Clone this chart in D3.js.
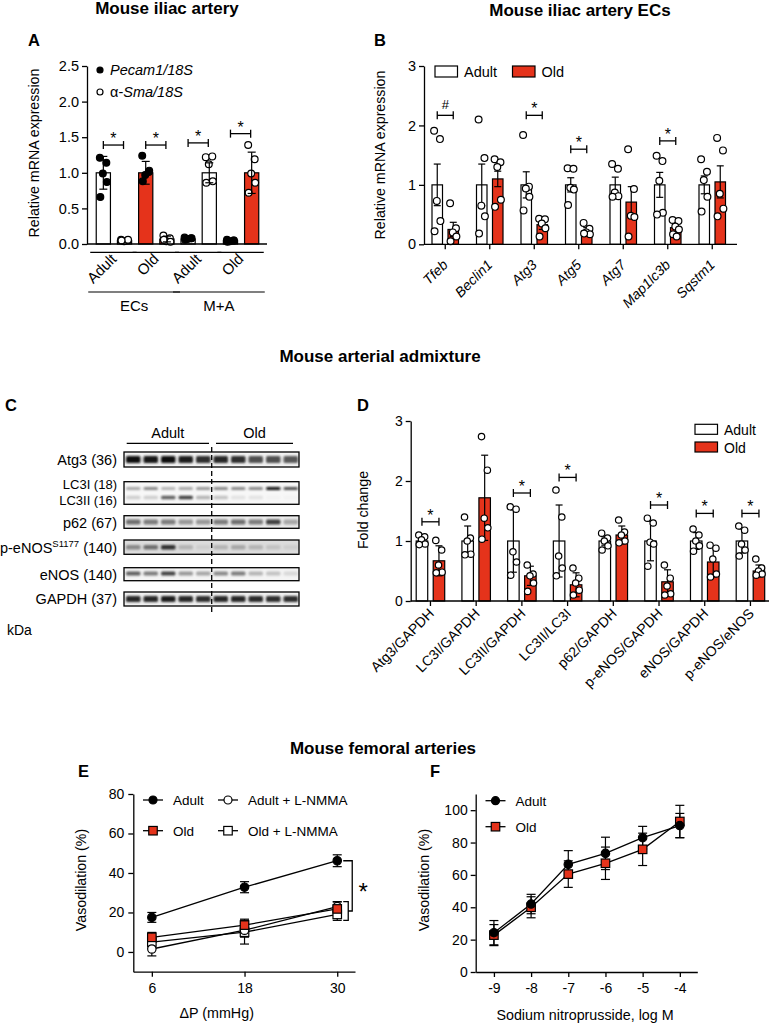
<!DOCTYPE html>
<html>
<head>
<meta charset="utf-8">
<script src="https://cdn.jsdelivr.net/npm/d3@7"></script>
<style>
body { margin: 0; background: #fff; }
text { fill: #000; }
</style>
</head>
<body>
<script>
// ---------- data ----------
// A: iliac artery, Pecam1 / a-Sma per group
var aAges = ["Adult", "Adult", "Old", "Old", "Adult", "Adult", "Old", "Old"];
var aGenes = ["Pecam1", "Sma", "Pecam1", "Sma", "Pecam1", "Sma", "Pecam1", "Sma"];
var aMeans = [1.00, 0.05, 1.00, 0.07, 0.07, 1.00, 0.05, 1.00];
var aSD = [0.23, 0.01, 0.16, 0.04, 0.01, 0.14, 0.01, 0.29];
var aPoints = [
  [1.21, 1.14, 0.99, 0.87, 0.66],
  [0.06, 0.05, 0.04, 0.06, 0.05],
  [1.24, 1.01, 0.97, 1.03, 0.88],
  [0.12, 0.08, 0.04, 0.03, 0.06],
  [0.09, 0.08, 0.07, 0.08, 0.06],
  [1.22, 1.23, 1.12, 0.88, 0.86],
  [0.06, 0.05, 0.04, 0.05, 0.03],
  [1.39, 1.19, 0.99, 0.86, 0.72]
];
var aGroupLabels = ["Adult", "Old", "Adult", "Old"];
var aTissues = ["ECs", "M+A"];
var aSig = [[0, 1, 1.39], [2, 3, 1.39], [4, 5, 1.42], [6, 7, 1.55]];

// B: iliac artery ECs
var bGenes = ["Tfeb", "Beclin1", "Atg3", "Atg5", "Atg7", "Map1lc3b", "Sqstm1"];
var bAdultMean = [1, 1, 1, 1, 1, 1, 1];
var bOldMean = [0.25, 1.10, 0.33, 0.22, 0.71, 0.28, 1.05];
var bAdultErr = [0.35, 0.35, 0.22, 0.12, 0.13, 0.21, 0.15];
var bOldErr = [0.12, 0.13, 0.08, 0.06, 0.26, 0.07, 0.27];
var bAdultPts = [
  [1.91, 1.77, 0.73, 0.39, 0.22],
  [2.10, 1.45, 0.65, 0.47, 0.18],
  [1.84, 0.97, 0.94, 0.80, 0.57],
  [1.28, 1.27, 0.95, 0.92, 0.66],
  [1.35, 1.27, 0.87, 0.81, 0.80],
  [1.49, 1.40, 1.07, 0.53, 0.50],
  [1.43, 1.22, 1.08, 0.80, 0.55]
];
var bOldPts = [
  [0.69, 0.27, 0.20, 0.13, 0.05],
  [1.43, 1.38, 1.30, 0.75, 0.63],
  [0.43, 0.42, 0.35, 0.27, 0.13],
  [0.36, 0.26, 0.20, 0.17, 0.18],
  [1.60, 0.93, 0.48, 0.46, 0.13],
  [0.41, 0.39, 0.30, 0.25, 0.17, 0.13],
  [1.79, 1.58, 0.85, 0.60, 0.47]
];
var bSig = [["Tfeb", "#", 2.17], ["Atg3", "*", 2.17], ["Atg5", "*", 1.60], ["Map1lc3b", "*", 1.74]];

// C: western blot, relative band darkness per lane (5 adult, 5 old)
var blotLabels = ["Atg3 (36)", "LC3", "p62 (67)", "p-eNOS", "eNOS (140)", "GAPDH (37)"];
var atg3Bands = [0.95, 0.92, 0.95, 0.9, 0.85, 0.88, 0.85, 0.75, 0.75, 0.72];
var lc3iBands = [0.45, 0.55, 0.4, 0.45, 0.5, 0.55, 0.55, 0.55, 0.95, 0.75];
var lc3iiBands = [0.3, 0.3, 0.7, 0.8, 0.4, 0.35, 0.2, 0.2, 0.1, 0.1];
var p62Bands = [0.65, 0.6, 0.6, 0.5, 0.5, 0.6, 0.65, 0.6, 0.8, 0.45];
var peNOSBands = [0.55, 0.65, 0.85, 0.4, 0.3, 0.4, 0.45, 0.4, 0.35, 0.3];
var eNOSBands = [0.7, 0.6, 0.8, 0.5, 0.45, 0.55, 0.6, 0.4, 0.35, 0.25];
var gapdhBands = [0.88, 0.88, 0.9, 0.88, 0.85, 0.88, 0.88, 0.86, 0.85, 0.85];

// D: arterial admixture densitometry
var dRatios = ["Atg3/GAPDH", "LC3I/GAPDH", "LC3II/GAPDH", "LC3II/LC3I", "p62/GAPDH", "p-eNOS/GAPDH", "eNOS/GAPDH", "p-eNOS/eNOS"];
var dAdultMean = [1, 1, 1, 1, 1, 1, 1, 1];
var dOldMean = [0.67, 1.72, 0.42, 0.27, 1.10, 0.32, 0.65, 0.50];
var dAdultErr = [0.05, 0.25, 0.52, 0.60, 0.07, 0.33, 0.14, 0.20];
var dOldErr = [0.25, 0.71, 0.16, 0.20, 0.15, 0.20, 0.25, 0.10];
var dAdultPts = [
  [1.10, 1.07, 1.02, 0.95, 0.94],
  [1.40, 1.05, 1.00, 0.78, 0.77],
  [1.57, 1.53, 0.82, 0.65, 0.43],
  [1.85, 1.40, 0.75, 0.55, 0.42],
  [1.13, 1.05, 1.00, 0.92, 0.85],
  [1.38, 1.30, 0.98, 0.95, 0.58],
  [1.20, 1.10, 1.00, 0.92, 0.83],
  [1.25, 1.18, 0.95, 0.85, 0.75]
];
var dOldPts = [
  [1.01, 0.85, 0.60, 0.48, 0.47],
  [2.74, 2.18, 1.38, 1.22, 1.03],
  [0.60, 0.45, 0.42, 0.30, 0.16],
  [0.55, 0.38, 0.30, 0.18, 0.10],
  [1.35, 1.15, 1.10, 1.00, 0.97],
  [0.60, 0.38, 0.25, 0.12, 0.10],
  [0.93, 0.88, 0.70, 0.45, 0.40],
  [0.70, 0.55, 0.50, 0.45, 0.43]
];
var dSig = [["Atg3/GAPDH", 1.32], ["LC3II/GAPDH", 1.80], ["LC3II/LC3I", 2.06], ["p-eNOS/GAPDH", 1.60], ["eNOS/GAPDH", 1.46], ["p-eNOS/eNOS", 1.46]];

// E: flow-induced dilation
var eDP = [6, 18, 30];
var eAdult = [17.5, 32.8, 46.2], eAdultErr = [2.5, 2.8, 3.0];
var eOld = [7.4, 13.6, 21.8], eOldErr = [2.5, 3.0, 3.5];
var eAdultL = [1.5, 11.0, 23.0], eAdultLErr = [3.5, 3.5, 2.5];
var eOldL = [5.0, 10.0, 19.0], eOldLErr = [3.0, 6.0, 3.0];

// F: sodium nitroprusside
var fLogM = [-9, -8, -7, -6, -5, -4];
var fAdult = [24.3, 42.0, 66.5, 73.3, 83.0, 90.5], fAdultErr = [7.5, 6.0, 8.5, 10.0, 7.0, 7.5];
var fOld = [22.8, 40.0, 60.5, 67.2, 75.8, 93.0], fOldErr = [6.5, 6.5, 8.2, 10.0, 10.0, 10.0];

// ---------- drawing ----------
var red = "#e5331b";
var font = "'Liberation Sans', Arial, Helvetica, sans-serif";
var jit = [-3.5, 3, -0.5, 3.5, -3, 1];

var svg = d3.select("body").append("svg")
  .attr("width", 770).attr("height", 1023)
  .style("font-family", font);

var defs = svg.append("defs");
defs.append("filter").attr("id", "blur").attr("x", "-20%").attr("y", "-50%").attr("width", "140%").attr("height", "200%")
  .append("feGaussianBlur").attr("stdDeviation", 0.9);

function label(x, y, s, size, opts) {
  opts = opts || {};
  return svg.append("text").attr("x", x).attr("y", y).text(s)
    .attr("font-size", size)
    .attr("font-weight", opts.bold ? "bold" : null)
    .attr("font-style", opts.italic ? "italic" : null)
    .attr("text-anchor", opts.anchor || "start");
}

function dot(g, x, y, r, filled) {
  g.append("circle").attr("cx", x).attr("cy", y).attr("r", r)
    .attr("fill", filled ? "#000" : "#fff").attr("stroke", "#000").attr("stroke-width", 1.2);
}

function square(g, x, y, s, fill) {
  g.append("rect").attr("x", x - s / 2).attr("y", y - s / 2).attr("width", s).attr("height", s)
    .attr("fill", fill).attr("stroke", "#000").attr("stroke-width", 1.2);
}

function errBar(g, x, y1, y2, hw) {
  g.append("line").attr("x1", x).attr("x2", x).attr("y1", y1).attr("y2", y2).attr("stroke", "#000").attr("stroke-width", 1.2);
  [y1, y2].forEach(function (y) {
    g.append("line").attr("x1", x - hw).attr("x2", x + hw).attr("y1", y).attr("y2", y).attr("stroke", "#000").attr("stroke-width", 1.2);
  });
}

function bracket(g, x1, x2, y, s) {
  g.append("line").attr("x1", x1).attr("x2", x2).attr("y1", y).attr("y2", y).attr("stroke", "#000").attr("stroke-width", 1.3);
  [x1, x2].forEach(function (x) {
    g.append("line").attr("x1", x).attr("x2", x).attr("y1", y - 4).attr("y2", y + 4).attr("stroke", "#000").attr("stroke-width", 1.3);
  });
  g.append("text").attr("x", (x1 + x2) / 2).attr("y", y - (s == "#" ? 6 : 1)).attr("text-anchor", "middle")
    .attr("font-size", s == "#" ? 13 : 16).text(s);
}

function yAxis(g, scale, x, ticks, fmt, size) {
  var ax = d3.axisLeft(scale).tickValues(ticks).tickSize(5).tickSizeOuter(0).tickPadding(3);
  if (fmt) ax.tickFormat(fmt);
  var a = g.append("g").attr("transform", "translate(" + x + ",0)").call(ax);
  a.selectAll("path,line").attr("stroke", "#000").attr("stroke-width", 1.3);
  a.selectAll("text").attr("font-size", size).attr("font-family", font).attr("fill", "#000");
  return a;
}

function yTitle(x, y, s, size) {
  svg.append("text").attr("transform", "translate(" + x + "," + y + ") rotate(-90)")
    .attr("text-anchor", "middle").attr("font-size", size).text(s);
}

// titles and panel letters
label(167, 14, "Mouse iliac artery", 17, { bold: true, anchor: "middle" });
label(580, 16, "Mouse iliac artery ECs", 17, { bold: true, anchor: "middle" });
label(380, 362, "Mouse arterial admixture", 17, { bold: true, anchor: "middle" });
label(383, 754, "Mouse femoral arteries", 17, { bold: true, anchor: "middle" });
label(28, 46, "A", 16.5, { bold: true });
label(374, 46, "B", 16.5, { bold: true });
label(5, 411, "C", 16.5, { bold: true });
label(357, 411, "D", 16.5, { bold: true });
label(78, 777, "E", 16.5, { bold: true });
label(430, 777, "F", 16.5, { bold: true });

// ---------- panel A ----------
(function () {
  var g = svg.append("g");
  var y = d3.scaleLinear().domain([0, 2.5]).range([244, 66]);
  var x = d3.scaleBand().domain(d3.range(aMeans.length)).range([92, 263]).paddingInner(0.33).paddingOuter(0.2);
  var bw = x.bandwidth();
  aMeans.forEach(function (m, i) {
    g.append("rect").attr("x", x(i)).attr("y", y(m)).attr("width", bw).attr("height", y(0) - y(m))
      .attr("fill", aAges[i] == "Old" ? red : "#fff").attr("stroke", "#000").attr("stroke-width", 1.2);
  });
  aMeans.forEach(function (m, i) {
    var cx = x(i) + bw / 2;
    aPoints[i].forEach(function (v, k) {
      dot(g, cx + jit[k], y(v), 3.4, aGenes[i] == "Pecam1");
    });
    if (aSD[i] > 0.02) errBar(g, cx, y(m + aSD[i]), y(m - aSD[i]), 4);
  });
  yAxis(g, y, 87, [0, 0.5, 1, 1.5, 2, 2.5], d3.format(".1f"), 14.5);
  g.append("line").attr("x1", 87).attr("x2", 267).attr("y1", 244).attr("y2", 244).attr("stroke", "#000").attr("stroke-width", 1.3);
  aSig.forEach(function (s) {
    bracket(g, x(s[0]) + bw / 2, x(s[1]) + bw / 2 - 1, y(s[2]), "*");
  });
  // group labels and lines
  aGroupLabels.forEach(function (s, j) {
    var c = (x(2 * j) + x(2 * j + 1) + bw) / 2;
    g.append("line").attr("x1", x(2 * j) - 6).attr("x2", x(2 * j + 1) + bw + 5).attr("y1", 252.3).attr("y2", 252.3)
      .attr("stroke", "#000").attr("stroke-width", 1.2);
    g.append("text").attr("transform", "translate(" + (c - 4.5) + ",252) rotate(-45)")
      .attr("dy", "0.75em").attr("text-anchor", "end").attr("font-size", 15).text(s);
  });
  aTissues.forEach(function (s, t) {
    var x1 = x(4 * t) - 8, x2 = x(4 * t + 3) + bw + 6;
    g.append("line").attr("x1", x1).attr("x2", x2).attr("y1", 292).attr("y2", 292).attr("stroke", "#000").attr("stroke-width", 1.2);
    g.append("text").attr("x", (x1 + x2) / 2).attr("y", 311).attr("text-anchor", "middle").attr("font-size", 15).text(s);
  });
  // legend
  dot(g, 100, 70, 3, true);
  dot(g, 100, 92, 3, false);
  g.append("text").attr("x", 110).attr("y", 75).attr("font-size", 14.5).attr("font-style", "italic").text("Pecam1/18S");
  var t2 = g.append("text").attr("x", 110).attr("y", 97).attr("font-size", 14.5);
  t2.append("tspan").text("\u03b1-");
  t2.append("tspan").attr("font-style", "italic").text("Sma/18S");
  yTitle(39, 153, "Relative mRNA expression", 14.2);
})();

// ---------- grouped bar helper (B, D) ----------
function groupedBars(cfg) {
  var g = svg.append("g");
  var y = d3.scaleLinear().domain([0, 3]).range([cfg.y0, cfg.y3]);
  var x = d3.scaleBand().domain(cfg.cats).range(cfg.xr);
  cfg.cats.forEach(function (c, i) {
    var cx = x(c) + x.bandwidth() / 2;
    [[cfg.am, cfg.ae, cfg.ap, "#fff", -cfg.off], [cfg.om, cfg.oe, cfg.op, red, cfg.off]].forEach(function (s) {
      var bx = cx + s[4], m = s[0][i];
      g.append("rect").attr("x", bx - cfg.bw / 2).attr("y", y(m)).attr("width", cfg.bw).attr("height", y(0) - y(m))
        .attr("fill", s[3]).attr("stroke", "#000").attr("stroke-width", 1.2);
      errBar(g, bx, y(m + s[1][i]), y(Math.max(0, m - s[1][i])), 3.5);
      s[2][i].forEach(function (v, k) {
        dot(g, bx + jit[k] * 0.9, y(v), cfg.r, false);
      });
    });
    g.append("line").attr("x1", cx).attr("x2", cx).attr("y1", cfg.y0).attr("y2", cfg.y0 + 5).attr("stroke", "#000").attr("stroke-width", 1.3);
    g.append("text").attr("transform", "translate(" + (cx - cfg.lx) + "," + (cfg.y0 + cfg.ly) + ") rotate(-45)")
      .attr("dy", "0.75em").attr("text-anchor", "end").attr("font-size", cfg.fs)
      .attr("font-style", cfg.italic ? "italic" : null).text(c);
  });
  yAxis(g, y, cfg.xa, [0, 1, 2, 3], d3.format("d"), cfg.tfs);
  g.append("line").attr("x1", cfg.xa).attr("x2", cfg.xend).attr("y1", cfg.y0).attr("y2", cfg.y0).attr("stroke", "#000").attr("stroke-width", 1.3);
  cfg.sig.forEach(function (s) {
    var cx = x(s[0]) + x.bandwidth() / 2;
    bracket(g, cx - cfg.off, cx + cfg.off, y(s[2]), s[1]);
  });
  return g;
}

// ---------- panel B ----------
(function () {
  var g = groupedBars({
    cats: bGenes, am: bAdultMean, ae: bAdultErr, ap: bAdultPts, om: bOldMean, oe: bOldErr, op: bOldPts,
    y0: 244.3, y3: 66, xr: [423, 734.5], xa: 424, xend: 737, bw: 10.5, off: 8, r: 3.4,
    lx: 4, ly: 14, fs: 14, italic: true, tfs: 14.5,
    sig: bSig
  });
  g.append("rect").attr("x", 435).attr("y", 66).attr("width", 22.5).attr("height", 11).attr("fill", "#fff").attr("stroke", "#000").attr("stroke-width", 1.2);
  g.append("text").attr("x", 464).attr("y", 77).attr("font-size", 14.5).text("Adult");
  g.append("rect").attr("x", 512.5).attr("y", 66).attr("width", 22.5).attr("height", 11).attr("fill", red).attr("stroke", "#000").attr("stroke-width", 1.2);
  g.append("text").attr("x", 541.5).attr("y", 77).attr("font-size", 14.5).text("Old");
  yTitle(385, 155, "Relative mRNA expression", 14.2);
})();

// ---------- panel C ----------
(function () {
  var g = svg.append("g");
  var x0 = 124, x1 = 299;
  var lane = d3.scaleBand().domain(d3.range(10)).range([x0, x1]);
  var strips = [
    { top: 452, h: 15, bg: "#f2f2f2", bands: [[atg3Bands, 0.5, 7]] },
    { top: 481.7, h: 22.6, bg: "#f7f7f7", bands: [[lc3iBands, 0.3, 3.2], [lc3iiBands, 0.7, 3.5]] },
    { top: 515.7, h: 12.6, bg: "#ececec", bands: [[p62Bands, 0.5, 5]] },
    { top: 540, h: 14.3, bg: "#dcdcdc", bands: [[peNOSBands, 0.5, 4.5]] },
    { top: 567.7, h: 13, bg: "#f4f4f4", bands: [[eNOSBands, 0.45, 4]] },
    { top: 592, h: 14, bg: "#f0f0f0", bands: [[gapdhBands, 0.5, 6]] }
  ];
  strips.forEach(function (s) {
    g.append("rect").attr("x", x0).attr("y", s.top).attr("width", x1 - x0).attr("height", s.h).attr("fill", s.bg);
    s.bands.forEach(function (b) {
      b[0].forEach(function (v, i) {
        g.append("rect").attr("x", lane(i) + 2).attr("width", lane.bandwidth() - 3)
          .attr("y", s.top + s.h * b[1] - b[2] / 2).attr("height", b[2]).attr("rx", 1.5)
          .attr("fill", d3.interpolateGreys(v)).attr("filter", "url(#blur)");
      });
    });
    g.append("rect").attr("x", x0).attr("y", s.top).attr("width", x1 - x0).attr("height", s.h)
      .attr("fill", "none").attr("stroke", "#000").attr("stroke-width", 1.3);
  });
  g.append("line").attr("x1", 211.7).attr("x2", 211.7).attr("y1", 447).attr("y2", 612)
    .attr("stroke", "#000").attr("stroke-width", 1.3).attr("stroke-dasharray", "5,3");
  // group headers
  [["Adult", 126.7, 209], ["Old", 216, 293]].forEach(function (h) {
    g.append("line").attr("x1", h[1]).attr("x2", h[2]).attr("y1", 443.3).attr("y2", 443.3).attr("stroke", "#000").attr("stroke-width", 1.2);
    g.append("text").attr("x", (h[1] + h[2]) / 2).attr("y", 438).attr("text-anchor", "middle").attr("font-size", 14.5).text(h[0]);
  });
  var lx = 117, fs = 14.5;
  g.append("text").attr("x", lx).attr("y", 465).attr("text-anchor", "end").attr("font-size", fs).text(blotLabels[0]);
  g.append("text").attr("x", lx).attr("y", 489).attr("text-anchor", "end").attr("font-size", 13).text("LC3I (18)");
  g.append("text").attr("x", lx).attr("y", 504.5).attr("text-anchor", "end").attr("font-size", 13).text("LC3II (16)");
  g.append("text").attr("x", lx).attr("y", 527.5).attr("text-anchor", "end").attr("font-size", fs).text(blotLabels[2]);
  var pe = g.append("text").attr("x", lx).attr("y", 552.5).attr("text-anchor", "end").attr("font-size", fs);
  pe.append("tspan").text("p-eNOS");
  pe.append("tspan").attr("font-size", 9.5).attr("dy", -5.5).text("S1177");
  pe.append("tspan").attr("dy", 5.5).text(" (140)");
  g.append("text").attr("x", lx).attr("y", 579.5).attr("text-anchor", "end").attr("font-size", fs).text(blotLabels[4]);
  g.append("text").attr("x", lx).attr("y", 604).attr("text-anchor", "end").attr("font-size", fs).text(blotLabels[5]);
  g.append("text").attr("x", 7).attr("y", 635).attr("font-size", 14).text("kDa");
})();

// ---------- panel D ----------
(function () {
  var g = groupedBars({
    cats: dRatios, am: dAdultMean, ae: dAdultErr, ap: dAdultPts, om: dOldMean, oe: dOldErr, op: dOldPts,
    y0: 601, y3: 421, xr: [407.6, 773.3], xa: 410.7, xend: 769, bw: 11.5, off: 8.5, r: 3.2,
    lx: 3, ly: 6, fs: 14, italic: false, tfs: 14,
    sig: dSig.map(function (s) { return [s[0], "*", s[1]]; })
  });
  g.append("rect").attr("x", 695).attr("y", 424.3).attr("width", 22.5).attr("height", 10).attr("fill", "#fff").attr("stroke", "#000").attr("stroke-width", 1.2);
  g.append("text").attr("x", 724).attr("y", 434.5).attr("font-size", 14).text("Adult");
  g.append("rect").attr("x", 695).attr("y", 442).attr("width", 22.5).attr("height", 10).attr("fill", red).attr("stroke", "#000").attr("stroke-width", 1.2);
  g.append("text").attr("x", 724).attr("y", 452.5).attr("font-size", 14).text("Old");
  yTitle(368, 510, "Fold change", 14.2);
})();

// ---------- line chart helpers ----------
function series(g, x, y, xs, ys, es, marker, fill) {
  var line = d3.line().x(function (d, i) { return x(xs[i]); }).y(function (d) { return y(d); });
  g.append("path").attr("d", line(ys)).attr("fill", "none").attr("stroke", "#000").attr("stroke-width", 1.3);
  ys.forEach(function (v, i) { errBar(g, x(xs[i]), y(v + es[i]), y(v - es[i]), 4.5); });
  return function () {
    ys.forEach(function (v, i) {
      if (marker == "circle") dot(g, x(xs[i]), y(v), 4.2, fill == "#000");
      else square(g, x(xs[i]), y(v), 8.5, fill);
    });
  };
}

function legendItem(g, cx, cy, marker, fill, s) {
  g.append("line").attr("x1", cx - 10).attr("x2", cx + 10).attr("y1", cy).attr("y2", cy).attr("stroke", "#000").attr("stroke-width", 1.3);
  if (marker == "circle") dot(g, cx, cy, 4, fill == "#000");
  else square(g, cx, cy, 8.5, fill);
  g.append("text").attr("x", cx + 20).attr("y", cy + 5).attr("font-size", 13.5).text(s);
}

function xAxis(g, scale, yPos, ticks, size) {
  var a = g.append("g").attr("transform", "translate(0," + yPos + ")")
    .call(d3.axisBottom(scale).tickValues(ticks).tickSize(5).tickSizeOuter(0).tickPadding(6)
      .tickFormat(function (d) { return String(d); }));
  a.selectAll("path,line").attr("stroke", "#000").attr("stroke-width", 1.3);
  a.selectAll("text").attr("font-size", size).attr("font-family", font).attr("fill", "#000");
}

// ---------- panel E ----------
(function () {
  var g = svg.append("g");
  var x = d3.scaleLinear().domain([3.6, 32.3]).range([133.3, 355]);
  var y = d3.scaleLinear().domain([-10, 80]).range([971.7, 794]);
  yAxis(g, y, 133.3, [0, 20, 40, 60, 80], d3.format("d"), 14).selectAll("text").attr("dx", -1);
  xAxis(g, x, 971.7, eDP, 14);
  var m1 = series(g, x, y, eDP, eOldL, eOldLErr, "square", "#fff");
  var m2 = series(g, x, y, eDP, eAdultL, eAdultLErr, "circle", "#fff");
  var m3 = series(g, x, y, eDP, eOld, eOldErr, "square", red);
  var m4 = series(g, x, y, eDP, eAdult, eAdultErr, "circle", "#000");
  m1(); m2(); m3(); m4();
  // significance bracket at 30 mmHg
  var last = eDP.length - 1;
  var hi = d3.max([eOld[last] + eOldErr[last], eAdultL[last] + eAdultLErr[last], eOldL[last]]);
  var lo = d3.min([eOld[last], eAdultL[last], eOldL[last] - eOldLErr[last]]);
  var xb = x(30);
  var br = g.append("path").attr("fill", "none").attr("stroke", "#000").attr("stroke-width", 1.3);
  br.attr("d", "M" + (xb + 6) + "," + y(hi) + "H" + (xb + 11) + "V" + y(lo) + "H" + (xb + 6) +
    "M" + (xb + 6) + "," + y(eAdult[last]) + "H" + (xb + 15) + "V" + y((hi + lo) / 2) + "H" + (xb + 11));
  g.append("text").attr("x", xb + 26).attr("y", y((eAdult[last] + (hi + lo) / 2) / 2) + 14)
    .attr("text-anchor", "middle").attr("font-size", 24).text("*");
  legendItem(g, 153, 800, "circle", "#000", "Adult");
  legendItem(g, 228, 800, "circle", "#fff", "Adult + L-NMMA");
  legendItem(g, 153, 830.7, "square", red, "Old");
  legendItem(g, 228, 830.7, "square", "#fff", "Old + L-NMMA");
  g.append("text").attr("x", 216.7).attr("y", 1018).attr("text-anchor", "middle").attr("font-size", 14.3).text("\u0394P (mmHg)");
  yTitle(86, 880, "Vasodilation (%)", 14.2);
})();

// ---------- panel F ----------
(function () {
  var g = svg.append("g");
  var x = d3.scaleLinear().domain([-9.49, -3.53]).range([475.7, 697.3]);
  var y = d3.scaleLinear().domain([0, 110]).range([972, 794]);
  yAxis(g, y, 475.7, [0, 20, 40, 60, 80, 100], d3.format("d"), 14);
  xAxis(g, x, 972, fLogM, 14);
  var m1 = series(g, x, y, fLogM, fOld, fOldErr, "square", red);
  var m2 = series(g, x, y, fLogM, fAdult, fAdultErr, "circle", "#000");
  m1(); m2();
  legendItem(g, 495.5, 800.7, "circle", "#000", "Adult");
  legendItem(g, 495.5, 826.7, "square", red, "Old");
  g.append("text").attr("x", 585).attr("y", 1020).attr("text-anchor", "middle").attr("font-size", 14.3).text("Sodium nitroprusside, log M");
  yTitle(429, 880, "Vasodilation (%)", 14.2);
})();
</script>
</body>
</html>
